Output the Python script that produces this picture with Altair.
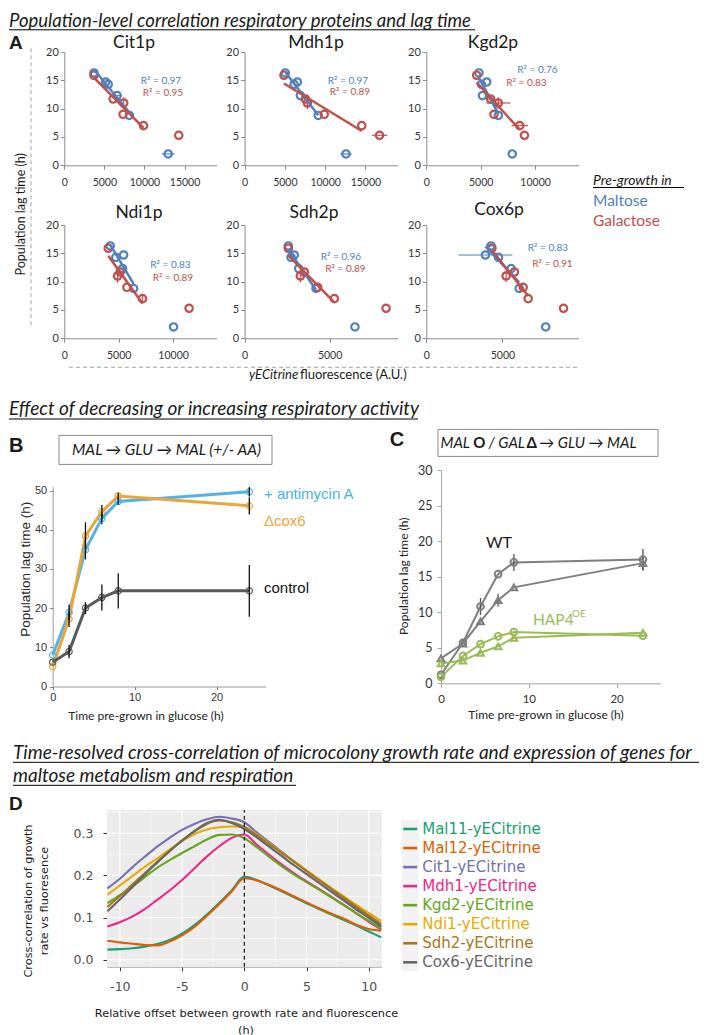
import altair as alt
import pandas as pd

# ======================= DATA =======================
# ---- Panel A: population lag time (h) vs yECitrine fluorescence (A.U.)
A_PROTEINS = ["Cit1p", "Mdh1p", "Kgd2p", "Ndi1p", "Sdh2p", "Cox6p"]
A_X_MAX = [19000, 19000, 14000, 14000, 9000, 10000]
A_X_TICKS = [[0, 5000, 10000, 15000], [0, 5000, 10000, 15000], [0, 5000, 10000],
             [0, 5000, 10000], [0, 5000], [0, 5000]]
A_Y_TICKS = [0, 5, 10, 15, 20]
LAG_MALTOSE = [16.3, 14.7, 14.3, 12.3, 8.8, 2.0]
LAG_GALACTOSE = [15.9, 11.7, 11.0, 9.0, 7.0, 5.3]
IN_FIT = [1, 1, 1, 1, 1, 0]
FLUO_MALTOSE = {
    "Cit1p": [3700, 5150, 5480, 6590, 8110, 12960],
    "Mdh1p": [5050, 6550, 6140, 6930, 9140, 12590],
    "Kgd2p": [4840, 5550, 5060, 5160, 6620, 7900],
    "Ndi1p": [4220, 5450, 4740, 5360, 6370, 10040],
    "Sdh2p": [2570, 2920, 2730, 3180, 4200, 6490],
    "Cox6p": [4250, 3880, 4740, 5570, 6100, 7840],
}
FLUO_GALACTOSE = {
    "Cit1p": [3700, 6100, 7410, 7330, 9880, 14280],
    "Mdh1p": [4890, 7550, 7800, 9890, 14550, 16760],
    "Kgd2p": [4630, 5910, 6620, 6220, 8590, 9020],
    "Ndi1p": [4040, 5140, 4900, 5750, 7190, 11470],
    "Sdh2p": [2570, 3510, 3280, 4300, 5280, 8320],
    "Cox6p": [4310, 5780, 5240, 6360, 6690, 9010],
}
XERR_MALTOSE = {
    "Cit1p": [0, 0, 0, 400, 0, 800], "Mdh1p": [0, 0, 0, 0, 0, 700],
    "Kgd2p": [0, 0, 0, 0, 0, 0], "Ndi1p": [0, 0, 0, 0, 0, 0],
    "Sdh2p": [0, 0, 0, 0, 0, 0], "Cox6p": [300, 1770, 0, 0, 0, 0],
}
XERR_GALACTOSE = {
    "Cit1p": [0, 0, 0, 0, 0, 0], "Mdh1p": [0, 0, 0, 0, 0, 950],
    "Kgd2p": [0, 400, 1100, 0, 750, 0], "Ndi1p": [0, 0, 0, 0, 0, 0],
    "Sdh2p": [0, 0, 0, 0, 0, 0], "Cox6p": [0, 0, 0, 0, 0, 0],
}
YERR_GALACTOSE = {
    "Cit1p": [0, 0, 1.0, 0, 0, 0], "Mdh1p": [0, 0, 1.1, 0, 0, 0],
    "Kgd2p": [0, 0, 1.0, 0, 0, 0], "Ndi1p": [0, 0, 1.2, 0, 0.6, 0],
    "Sdh2p": [0, 0, 1.1, 0, 0, 0], "Cox6p": [0, 0, 1.1, 0, 0, 0],
}
R2_MALTOSE = ["0.97", "0.97", "0.76", "0.83", "0.96", "0.83"]
R2_GALACTOSE = ["0.95", "0.89", "0.83", "0.89", "0.89", "0.91"]

# ---- Panel B
B_TIME = [0, 2, 4, 6, 8, 24]
B_ANTIMYCIN = [8.0, 18.9, 34.9, 42.9, 47.2, 49.7]
B_ANTIMYCIN_ERR = [0.0, 2.0, 2.5, 1.5, 0.8, 1.2]
B_COX6 = [5.1, 17.2, 38.4, 44.6, 48.6, 46.1]
B_COX6_ERR = [0.0, 2.0, 3.5, 1.7, 0.8, 2.2]
B_CONTROL = [6.2, 8.9, 20.0, 22.7, 24.4, 24.4]
B_CONTROL_ERR = [0.0, 1.7, 1.5, 3.3, 4.5, 6.6]

# ---- Panel C
C_TIME = [0, 2.5, 4.5, 6.5, 8.3, 23]
C_WT_MAL = [1.2, 5.7, 10.8, 15.35, 17.0, 17.4]
C_WT_MAL_ERR = [0, 0, 1.2, 0, 1.2, 1.5]
C_WT_GAL = [3.5, 5.6, 8.7, 11.7, 13.5, 16.9]
C_WT_GAL_ERR = [0, 0, 0, 0.9, 0, 1.0]
C_HAP_MAL = [0.9, 3.85, 5.5, 6.6, 7.2, 6.7]
C_HAP_GAL = [2.8, 3.2, 4.3, 5.2, 6.4, 7.1]

# ---- Panel D
D_SERIES = ["Mal11-yECitrine", "Mal12-yECitrine", "Cit1-yECitrine", "Mdh1-yECitrine",
            "Kgd2-yECitrine", "Ndi1-yECitrine", "Sdh2-yECitrine", "Cox6-yECitrine"]
D_COLORS = ["#1b9e77", "#d95f02", "#7570b3", "#e7298a", "#66a61e", "#e6ab02", "#a6761d", "#666666"]
D_OFFSET = [-11, -10, -9, -8, -7, -6, -5, -4, -3, -2, -1, 0, 1, 2, 3, 4, 5, 6, 7, 8, 9, 10, 11]
D_VALUES = {
    "Mal11-yECitrine": [0.024, 0.025, 0.027, 0.031, 0.037, 0.047, 0.062, 0.082, 0.107, 0.135, 0.165, 0.197,
                        0.189, 0.176, 0.162, 0.148, 0.134, 0.120, 0.107, 0.094, 0.081, 0.067, 0.053],
    "Mal12-yECitrine": [0.045, 0.041, 0.038, 0.035, 0.034, 0.043, 0.058, 0.078, 0.104, 0.132, 0.162, 0.193,
                        0.188, 0.177, 0.164, 0.150, 0.136, 0.122, 0.109, 0.097, 0.083, 0.073, 0.069],
    "Cit1-yECitrine": [0.169, 0.192, 0.219, 0.244, 0.268, 0.289, 0.308, 0.322, 0.333, 0.339, 0.335, 0.326,
                       0.302, 0.279, 0.256, 0.233, 0.211, 0.189, 0.167, 0.145, 0.123, 0.102, 0.080],
    "Mdh1-yECitrine": [0.079, 0.089, 0.102, 0.120, 0.142, 0.164, 0.189, 0.217, 0.245, 0.269, 0.289, 0.297,
                       0.273, 0.249, 0.226, 0.205, 0.186, 0.168, 0.149, 0.130, 0.110, 0.090, 0.072],
    "Kgd2-yECitrine": [0.134, 0.153, 0.173, 0.196, 0.218, 0.236, 0.253, 0.269, 0.285, 0.296, 0.297, 0.288,
                       0.267, 0.244, 0.222, 0.202, 0.184, 0.166, 0.148, 0.129, 0.110, 0.092, 0.073],
    "Ndi1-yECitrine": [0.154, 0.176, 0.198, 0.220, 0.240, 0.261, 0.281, 0.298, 0.309, 0.314, 0.316, 0.314,
                       0.297, 0.276, 0.254, 0.233, 0.212, 0.191, 0.170, 0.150, 0.130, 0.111, 0.092],
    "Sdh2-yECitrine": [0.125, 0.151, 0.178, 0.205, 0.232, 0.258, 0.283, 0.305, 0.322, 0.330, 0.326, 0.315,
                       0.295, 0.274, 0.253, 0.232, 0.210, 0.189, 0.168, 0.147, 0.126, 0.105, 0.085],
    "Cox6-yECitrine": [0.115, 0.143, 0.172, 0.202, 0.230, 0.257, 0.282, 0.305, 0.324, 0.332, 0.324, 0.310,
                       0.290, 0.268, 0.246, 0.224, 0.203, 0.182, 0.161, 0.140, 0.119, 0.099, 0.078],
}
D_MAJOR_X = [-10, -5, 0, 5, 10]
D_MINOR_X = [-7.5, -2.5, 2.5, 7.5]
D_MAJOR_Y = [0.0, 0.1, 0.2, 0.3]
D_MINOR_Y = [0.05, 0.15, 0.25, 0.35]

# ======================= STYLE / LAYOUT =======================
BLUE = "#4f81bd"
RED = "#c0504d"
AX_GRAY = "#8c8c8c"
B_BLUE = "#52b3e6"
B_ORANGE = "#eba53a"
B_GRAY = "#5a5a5a"
C_GRAY = "#7f7f7f"
C_GREEN = "#9bbb59"
TXT = "#1a1a1a"
ONE = pd.DataFrame({"k": [0]})
ROW_W = 700

A_LEFT = [55.3, 235.6, 417.3]
A_W = [152.3, 153.0, 152.3]
A_H = 113.3
A_R2_POS = {
    "Cit1p": ((96.7, 29.3), (98.7, 41.0)),
    "Mdh1p": ((103.4, 29.3), (105.4, 40.0)),
    "Kgd2p": ((111.2, 18.3), (100.2, 31.3)),
    "Ndi1p": ((106.2, 40.0), (108.7, 53.4)),
    "Sdh2p": ((96.4, 31.7), (100.9, 43.7)),
    "Cox6p": ((121.7, 23.4), (126.2, 38.7)),
}
INDEP = dict(x="independent", y="independent", color="independent", shape="independent")


def txt(s, x, y, size=12, font="Lato", color=TXT, align="left", baseline="middle",
        style="normal", weight="normal", angle=None):
    kw = dict(text=s, fontSize=size, font=font, color=color, align=align,
              baseline=baseline, fontStyle=style, fontWeight=weight)
    if angle is not None:
        kw["angle"] = angle
    return alt.Chart(ONE).mark_text(**kw).encode(x=alt.value(x), y=alt.value(y))


def hseg(x1, x2, y, color="#000000", width=1.0, dash=None):
    kw = dict(color=color, strokeWidth=width)
    if dash:
        kw["strokeDash"] = dash
    return alt.Chart(ONE).mark_rule(**kw).encode(x=alt.value(x1), x2=alt.value(x2), y=alt.value(y))


def vseg(x, y1, y2, color="#000000", width=1.0, dash=None):
    kw = dict(color=color, strokeWidth=width)
    if dash:
        kw["strokeDash"] = dash
    return alt.Chart(ONE).mark_rule(**kw).encode(x=alt.value(x), y=alt.value(y1), y2=alt.value(y2))


def box(x1, x2, y1, y2):
    return alt.Chart(ONE).mark_rect(fill="white", stroke="#8a8a8a", strokeWidth=1).encode(
        x=alt.value(x1), x2=alt.value(x2), y=alt.value(y1), y2=alt.value(y2))


def canvas(h, layers):
    return alt.layer(*layers).properties(width=ROW_W, height=h)


# ======================= PANEL A =======================
def panel_a(i, slot, extra=()):
    name = A_PROTEINS[i]
    L, W = A_LEFT[slot], A_W[slot]
    recs = []
    for cond, fl, lag, xe, ye in (
        ("Maltose", FLUO_MALTOSE[name], LAG_MALTOSE, XERR_MALTOSE[name], [0] * 6),
        ("Galactose", FLUO_GALACTOSE[name], LAG_GALACTOSE, XERR_GALACTOSE[name], YERR_GALACTOSE[name]),
    ):
        for j in range(6):
            recs.append({"cond": cond, "fluo": fl[j], "lag": lag[j], "fit": IN_FIT[j],
                         "xe": xe[j], "ye": ye[j],
                         "x_lo": fl[j] - xe[j], "x_hi": fl[j] + xe[j],
                         "y_lo": lag[j] - ye[j], "y_hi": lag[j] + ye[j]})
    df = pd.DataFrame(recs)
    xs = alt.Scale(domain=[0, A_X_MAX[i]], range=[L, L + W], nice=False, zero=True)
    ys = alt.Scale(domain=[0, 20], range=[A_H, 0], nice=False)
    xax = alt.Axis(values=A_X_TICKS[i], format="d", title=None, grid=False, orient="bottom",
                   domainColor=AX_GRAY, tickColor=AX_GRAY, tickSize=4,
                   labelFont="Lato", labelFontSize=10.5, labelColor="#333333",
                   labelPadding=8, labelFlush=False, labelOverlap=False)
    yax = alt.Axis(values=A_Y_TICKS, title=None, grid=False, orient="left", offset=-L,
                   domainColor=AX_GRAY, tickColor=AX_GRAY, tickSize=4,
                   labelFont="Lato", labelFontSize=11, labelColor="#333333",
                   labelPadding=2, labelOverlap=False)
    col = alt.Color("cond:N", scale=alt.Scale(domain=["Maltose", "Galactose"], range=[BLUE, RED]),
                    legend=None)
    base = alt.Chart(df)
    pts = base.mark_point(shape="circle", filled=False, size=55, strokeWidth=2.2, opacity=1).encode(
        x=alt.X("fluo:Q", scale=xs, axis=xax), y=alt.Y("lag:Q", scale=ys, axis=yax), color=col)
    xeb = base.transform_filter("datum.xe > 0").mark_rule(strokeWidth=1.2).encode(
        x=alt.X("x_lo:Q", scale=xs, axis=xax), x2="x_hi:Q",
        y=alt.Y("lag:Q", scale=ys, axis=yax), color=col)
    yeb = base.transform_filter("datum.ye > 0").mark_rule(strokeWidth=1.2).encode(
        x=alt.X("fluo:Q", scale=xs, axis=xax),
        y=alt.Y("y_lo:Q", scale=ys, axis=yax), y2="y_hi:Q", color=col)
    reg = base.transform_filter("datum.fit == 1").transform_regression(
        "fluo", "lag", groupby=["cond"]).mark_line(strokeWidth=2.5).encode(
        x=alt.X("fluo:Q", scale=xs, axis=xax), y=alt.Y("lag:Q", scale=ys, axis=yax), color=col)
    (bx, by), (rx, ry) = A_R2_POS[name]
    t1 = txt("R² = " + R2_MALTOSE[i], L + bx, by, size=10, color=BLUE, align="center")
    t2 = txt("R² = " + R2_GALACTOSE[i], L + rx, ry, size=10, color=RED, align="center")
    return alt.layer(pts, xeb, yeb, reg, t1, t2, *extra)


a_extra = [
    vseg(22.0, -3.7, 276.3, color="#b4b4b4", width=1.2, dash=[4, 3]),
    txt("Population lag time (h)", 12.0, 162.3, size=12.5, align="center", angle=270),
]
ROW_A1 = alt.layer(panel_a(0, 0, a_extra), panel_a(1, 1), panel_a(2, 2)).resolve_scale(
    **INDEP).properties(width=ROW_W, height=A_H)
ROW_A2 = alt.layer(panel_a(3, 0), panel_a(4, 1), panel_a(5, 2)).resolve_scale(
    **INDEP).properties(width=ROW_W, height=A_H)

# ======================= PANEL B =======================
BL, BW = 43.7, 213.0
ROW_BC_H = 216.5
brecs = []
for key, vals, errs in (("antimycin", B_ANTIMYCIN, B_ANTIMYCIN_ERR),
                        ("cox6", B_COX6, B_COX6_ERR),
                        ("control", B_CONTROL, B_CONTROL_ERR)):
    for t, v, e in zip(B_TIME, vals, errs):
        brecs.append({"series": key, "t": t, "v": v, "err": e, "lo": v - e, "hi": v + e})
df_b = pd.DataFrame(brecs)
bxs = alt.Scale(domain=[0, 26], range=[BL, BL + BW], nice=False)
bys = alt.Scale(domain=[0, 51], range=[ROW_BC_H, 16.6], nice=False)
bxax = alt.Axis(values=[0, 10, 20], title=None, grid=False, orient="bottom", domainColor="#9a9a9a",
                tickColor="#7a7a7a", tickSize=3, labelFont="Liberation Sans", labelFontSize=11,
                labelColor="#333333", labelPadding=2, labelFlush=False)
byax = alt.Axis(values=[0, 10, 20, 30, 40, 50], title=None, grid=False, orient="left", offset=-BL,
                domainColor="#9a9a9a", tickColor="#7a7a7a", tickSize=3,
                labelFont="Liberation Sans", labelFontSize=11, labelColor="#333333", labelPadding=3)
bcol = alt.Color("series:N", scale=alt.Scale(domain=["antimycin", "cox6", "control"],
                                             range=[B_BLUE, B_ORANGE, B_GRAY]), legend=None)
bb = alt.Chart(df_b)
b_lines = bb.mark_line(strokeWidth=3).encode(
    x=alt.X("t:Q", scale=bxs, axis=bxax), y=alt.Y("v:Q", scale=bys, axis=byax), color=bcol)
b_pts = bb.mark_point(shape="circle", filled=False, size=40, strokeWidth=1.2, opacity=1).encode(
    x=alt.X("t:Q", scale=bxs, axis=bxax), y=alt.Y("v:Q", scale=bys, axis=byax), color=bcol)
b_err = bb.transform_filter("datum.err > 0").mark_rule(color="#111111", strokeWidth=1.3).encode(
    x=alt.X("t:Q", scale=bxs, axis=bxax), y=alt.Y("lo:Q", scale=bys, axis=byax), y2="hi:Q")
B_LAYER = alt.layer(
    b_lines, b_pts, b_err,
    txt("Population lag time (h)", BL - 26.7, 99.3, size=13.5, font="Liberation Sans",
        color="#222222", align="center", angle=270),
    txt("Time pre-grown in glucose (h)", BL + 93.3, 246.3, size=12, align="center", color="#222222"),
    txt("+ antimycin A", BL + 211.3, 24, size=15, font="Liberation Sans", color="#44b4e8"),
    txt("Δcox6", BL + 211.3, 50.6, size=15, font="Liberation Sans", color=B_ORANGE),
    txt("control", BL + 211.3, 118.3, size=15, font="Liberation Sans", color="#111111"),
)

# ======================= PANEL C =======================
CL, CW, CH = 432.0, 219.5, 213.3
crecs = []
for key, strain, medium, vals, errs in (
    ("wt_mal", "WT", "MAL", C_WT_MAL, C_WT_MAL_ERR),
    ("wt_gal", "WT", "GAL", C_WT_GAL, C_WT_GAL_ERR),
    ("hap_mal", "HAP4", "MAL", C_HAP_MAL, [0] * 6),
    ("hap_gal", "HAP4", "GAL", C_HAP_GAL, [0] * 6),
):
    for t, v, e in zip(C_TIME, vals, errs):
        crecs.append({"series": key, "strain": strain, "medium": medium, "t": t, "v": v,
                      "err": e, "lo": v - e, "hi": v + e})
df_c = pd.DataFrame(crecs)
cxs = alt.Scale(domain=[0, 25], range=[CL, CL + CW], nice=False)
cys = alt.Scale(domain=[0, 30], range=[CH, 0], nice=False)
cxax = alt.Axis(values=[0, 10, 20], title=None, grid=False, orient="bottom", offset=CH - ROW_BC_H,
                domainColor="#a6a6a6", tickColor="#a6a6a6", tickSize=4, labelFont="Lato",
                labelFontSize=11.5, labelColor="#333333", labelPadding=6, labelFlush=False)
cyax = alt.Axis(values=[0, 5, 10, 15, 20, 25, 30], title=None, grid=False, orient="left", offset=-CL,
                domainColor="#a6a6a6", tickColor="#a6a6a6", tickSize=4, labelFont="Lato",
                labelFontSize=12.5, labelColor="#333333", labelPadding=5)
ccol = alt.Color("strain:N", scale=alt.Scale(domain=["WT", "HAP4"], range=[C_GRAY, C_GREEN]),
                 legend=None)
cshape = alt.Shape("medium:N", scale=alt.Scale(domain=["MAL", "GAL"], range=["circle", "triangle-up"]),
                   legend=None)
cb = alt.Chart(df_c)
c_lines = cb.mark_line(strokeWidth=2).encode(
    x=alt.X("t:Q", scale=cxs, axis=cxax), y=alt.Y("v:Q", scale=cys, axis=cyax),
    color=ccol, detail="series:N")
c_err = cb.transform_filter("datum.err > 0").mark_rule(color="#555555", strokeWidth=1.3).encode(
    x=alt.X("t:Q", scale=cxs, axis=cxax), y=alt.Y("lo:Q", scale=cys, axis=cyax), y2="hi:Q")
c_pts = cb.mark_point(filled=False, size=45, strokeWidth=2, opacity=1).encode(
    x=alt.X("t:Q", scale=cxs, axis=cxax), y=alt.Y("v:Q", scale=cys, axis=cyax),
    color=ccol, shape=cshape)
C_LAYER = alt.layer(
    c_lines, c_err, c_pts,
    txt("Population lag time (h)", CL - 37, 106.3, size=12, align="center", angle=270, color="#222222"),
    txt("Time pre-grown in glucose (h)", CL + 105, 245.3, size=12, align="center", color="#222222"),
    txt("WT", CL + 58, 73.3, size=16, align="center"),
    txt("HAP4", CL + 92, 150.3, size=15.5, color=C_GREEN),
    txt("OE", CL + 131, 144.3, size=10, color=C_GREEN),
)
ROW_BC = alt.layer(B_LAYER, C_LAYER).resolve_scale(**INDEP).properties(width=ROW_W, height=ROW_BC_H)

# ======================= PANEL D =======================
DL, DW, DH = 98.0, 274.7, 156.7
drecs = []
for s in D_SERIES:
    for o, v in zip(D_OFFSET, D_VALUES[s]):
        drecs.append({"series": s, "offset": o, "cc": v})
df_d = pd.DataFrame(drecs)
dxs = alt.Scale(domain=[-11.03, 11.04], range=[DL, DL + DW], nice=False, zero=False)
dys = alt.Scale(domain=[-0.0166, 0.355], range=[DH, 0], nice=False, zero=False)
dxax = alt.Axis(values=D_MAJOR_X, title=None, grid=False, orient="bottom", domainColor="#a0a0a0",
                tickColor="#333333", tickSize=4, labelFont="DejaVu Sans", labelFontSize=12.5,
                labelColor="#4d4d4d", labelPadding=10, labelFlush=False,
                labelExpr="'' + datum.value")
dyax = alt.Axis(values=D_MAJOR_Y, title=None, grid=False, orient="left", offset=-DL,
                domainColor="#a0a0a0", tickColor="#333333", tickSize=4, labelFont="DejaVu Sans",
                labelFontSize=12.5, labelColor="#4d4d4d", labelPadding=10, format=".1f")
dcol = alt.Color("series:N", scale=alt.Scale(domain=D_SERIES, range=D_COLORS), legend=None)
d_bg = alt.Chart(ONE).mark_rect(color="#ebebeb").encode(
    x=alt.XDatum(-11.03, scale=dxs, axis=dxax), x2=alt.X2Datum(11.04),
    y=alt.YDatum(-0.0166, scale=dys, axis=dyax), y2=alt.Y2Datum(0.355))
d_gmx = alt.Chart(pd.DataFrame({"v": D_MAJOR_X})).mark_rule(color="white", strokeWidth=1.1).encode(
    x=alt.X("v:Q", scale=dxs, axis=dxax),
    y=alt.YDatum(-0.0166, scale=dys, axis=dyax), y2=alt.Y2Datum(0.355))
d_gnx = alt.Chart(pd.DataFrame({"v": D_MINOR_X})).mark_rule(color="white", strokeWidth=0.55).encode(
    x=alt.X("v:Q", scale=dxs, axis=dxax),
    y=alt.YDatum(-0.0166, scale=dys, axis=dyax), y2=alt.Y2Datum(0.355))
d_gmy = alt.Chart(pd.DataFrame({"v": D_MAJOR_Y})).mark_rule(color="white", strokeWidth=1.1).encode(
    y=alt.Y("v:Q", scale=dys, axis=dyax),
    x=alt.XDatum(-11.03, scale=dxs, axis=dxax), x2=alt.X2Datum(11.04))
d_gny = alt.Chart(pd.DataFrame({"v": D_MINOR_Y})).mark_rule(color="white", strokeWidth=0.55).encode(
    y=alt.Y("v:Q", scale=dys, axis=dyax),
    x=alt.XDatum(-11.03, scale=dxs, axis=dxax), x2=alt.X2Datum(11.04))
d_lines = alt.Chart(df_d).mark_line(strokeWidth=2.1, interpolate="monotone").encode(
    x=alt.X("offset:Q", scale=dxs, axis=dxax), y=alt.Y("cc:Q", scale=dys, axis=dyax), color=dcol)
d_zero = alt.Chart(ONE).mark_rule(color="black", strokeWidth=1.1, strokeDash=[4, 3]).encode(
    x=alt.XDatum(0, scale=dxs, axis=dxax),
    y=alt.YDatum(-0.0166, scale=dys, axis=dyax), y2=alt.Y2Datum(0.355))
D_LAYER = alt.layer(
    d_bg, d_gmx, d_gnx, d_gmy, d_gny, d_lines, d_zero,
    txt("Cross-correlation of growth", DL - 78, 91, size=11.3, font="DejaVu Sans", align="center", angle=270),
    txt("rate vs fluoresence", DL - 62, 91, size=11.3, font="DejaVu Sans", align="center", angle=270),
    txt("Relative offset between growth rate and fluorescence", DL + 139.5, 204, size=11.3,
        font="DejaVu Sans", align="center"),
    txt("(h)", DL + 139, 221, size=11.3, font="DejaVu Sans", align="center"),
)

LGL = 392.7
df_leg = pd.DataFrame({"series": D_SERIES, "order": list(range(len(D_SERIES)))})
lys = alt.Scale(domain=[0, 7], range=[19, 152.3])
lcol = alt.Color("series:N", scale=alt.Scale(domain=D_SERIES, range=D_COLORS), legend=None)
leg_strip = alt.Chart(ONE).mark_rect(color="#f2f2f2").encode(
    x=alt.value(LGL), x2=alt.value(LGL + 17), y=alt.value(10), y2=alt.value(161))
leg_keys = alt.Chart(df_leg).mark_rule(strokeWidth=2.6).encode(
    x=alt.value(LGL + 1.5), x2=alt.value(LGL + 15.5), y=alt.Y("order:Q", scale=lys, axis=None), color=lcol)
leg_txt = alt.Chart(df_leg).mark_text(align="left", baseline="middle", font="DejaVu Sans",
                                      fontSize=15).encode(
    x=alt.value(LGL + 20.5), y=alt.Y("order:Q", scale=lys, axis=None), text="series:N", color=lcol)
LEG_LAYER = alt.layer(leg_strip, leg_keys, leg_txt)
ROW_D = alt.layer(D_LAYER, LEG_LAYER).resolve_scale(**INDEP).properties(width=ROW_W, height=DH)

# ======================= HEADERS / TEXT BANDS =======================
TITLE_SIZE = 19
head1 = canvas(43.7, [
    txt("Population-level correlation respiratory proteins and lag time", 0, 18.5, size=18.5,
        style="italic", baseline="alphabetic"),
    hseg(0, 466, 21.8),
    txt("A", 0, 40.5, size=19, font="Liberation Sans", weight="bold", baseline="alphabetic"),
    txt("Cit1p", 125, 35, size=17.5, align="center"),
    txt("Mdh1p", 307, 35, size=17.5, align="center"),
    txt("Kgd2p", 484, 35, size=17.5, align="center"),
])
head3 = canvas(58.3, [
    txt("Ndi1p", 130, 46.7, size=17.5, align="center"),
    txt("Sdh2p", 305, 46.7, size=17.5, align="center"),
    txt("Cox6p", 490, 44, size=17.5, align="center"),
    txt("Pre-growth in", 584, 15, size=14, style="italic"),
    hseg(584, 675, 21.5),
    txt("Maltose", 584, 35, size=15.5, color=BLUE),
    txt("Galactose", 584, 55, size=15.5, color=RED),
])
head5 = canvas(130.1, [
    hseg(60, 569, 28.4, color="#b4b4b4", width=1.2, dash=[4, 3]),
    txt("yECitrine", 240, 36.4, size=13, style="italic"),
    txt("fluorescence (A.U.)", 291, 36.4, size=13),
    txt("Effect of decreasing or increasing respiratory activity", 0, 76.4, size=TITLE_SIZE,
        style="italic", baseline="alphabetic"),
    hseg(0, 409, 80),
    txt("B", 0, 113.4, size=20, font="Liberation Sans", weight="bold", baseline="alphabetic"),
    box(50, 263, 96.4, 125.4),
    txt("MAL → GLU  → MAL (+/- AA)", 157.5, 110.9, size=15.5, style="italic", align="center"),
    txt("C", 388, 107.4, size=20, font="Liberation Sans", weight="bold", baseline="alphabetic",
        align="center"),
    box(429, 649, 90.4, 117.4),
    txt("MAL", 461, 104.2, size=15, style="italic", align="right"),
    txt("O", 470.3, 104.2, size=15, weight="bold", align="center"),
    txt("/ GAL", 479.5, 104.2, size=15, style="italic"),
    txt("Δ", 522.7, 104.2, size=15, weight="bold", align="center"),
    txt("→ GLU → MAL", 530.3, 104.2, size=15, style="italic"),
])
head7 = canvas(122.8, [
    txt("Time-resolved cross-correlation of  microcolony growth rate and expression of genes for",
        4, 71.8, size=TITLE_SIZE, style="italic", baseline="alphabetic"),
    hseg(4, 690, 75.3),
    txt("maltose metabolism and respiration", 4, 95.1, size=TITLE_SIZE, style="italic",
        baseline="alphabetic"),
    hseg(4, 287, 98.3),
    txt("D", 0, 122.8, size=19, font="Liberation Sans", weight="bold", baseline="alphabetic"),
])

chart = alt.vconcat(
    head1, ROW_A1, head3, ROW_A2, head5, ROW_BC, head7, ROW_D,
    spacing=0, bounds="flush", padding=0,
).resolve_scale(color="independent", shape="independent").configure_view(stroke=None)

chart.save("out.html", embed_options={"renderer": "svg", "actions": False})
